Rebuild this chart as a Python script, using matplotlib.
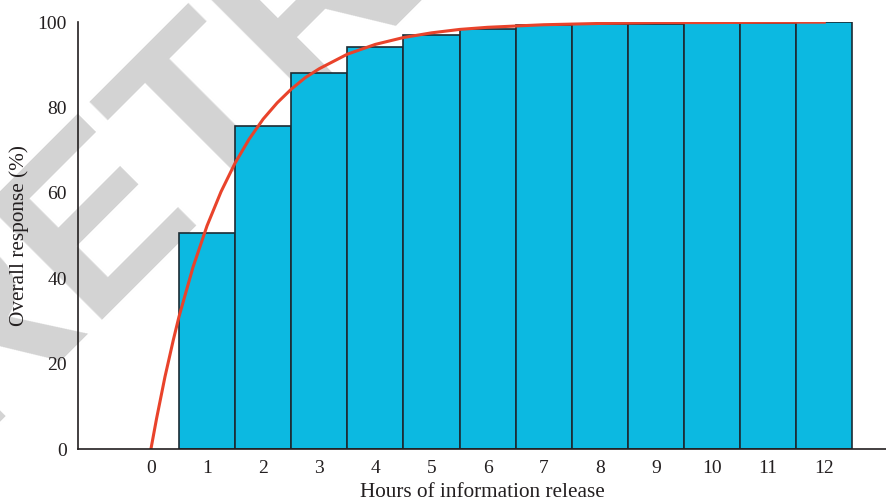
import matplotlib.pyplot as plt

# bar heights
hours = [1, 2, 3, 4, 5, 6, 7, 8, 9, 10, 11, 12]
response = [50.6, 75.6, 88.0, 94.1, 97.1, 98.5, 99.3, 99.5, 99.6, 99.7, 99.8, 100.0]

# red fitted curve
curve_x = [0, 0.1, 0.25, 0.4, 0.5, 0.75, 1.0, 1.25, 1.5, 1.75, 2.0, 2.25, 2.5, 2.75, 3.0,
           3.5, 4.0, 4.5, 5.0, 5.5, 6.0, 7.0, 8.0, 9.0, 10.0, 11.0, 12.0]
curve_y = [0, 7.1, 16.9, 25.6, 31.0, 42.6, 52.3, 60.3, 67.0, 72.6, 77.3, 81.1, 84.3, 87.0, 89.1,
           92.5, 94.8, 96.4, 97.5, 98.3, 98.8, 99.4, 99.7, 99.9, 99.9, 100.0, 100.0]

x_ticks = list(range(0, 13))
y_ticks = [0, 20, 40, 60, 80, 100]

plt.rcParams['font.family'] = ['Liberation Serif', 'DejaVu Serif']

fig = plt.figure(figsize=(8.86, 5.04), dpi=100)
ax = fig.add_axes([0.088, 0.109, 0.912, 0.847])
ax.patch.set_alpha(0)

# retraction watermark behind the chart
fig.text(-0.039, 0.126, 'RETRACTED', family='Liberation Sans', weight='bold', fontsize=171,
         color='#d3d3d3', rotation=45, rotation_mode='anchor', ha='left', va='baseline', zorder=-1)

ax.bar(hours, response, width=1.0, color='#0cb9e1', edgecolor='#1c2b33', linewidth=1.2, zorder=2)
ax.plot(curve_x, curve_y, color='#e9432b', linewidth=2.2, zorder=3)

ax.set_xlim(-1.3, 13.1)
ax.set_ylim(0, 100)
ax.set_xticks(x_ticks)
ax.set_yticks(y_ticks)
ax.tick_params(length=0, labelsize=14, colors='#231f20', pad=8)
for side in ['top', 'right']:
    ax.spines[side].set_visible(False)
for side in ['left', 'bottom']:
    ax.spines[side].set_color('#231f20')
    ax.spines[side].set_linewidth(1.2)
    ax.spines[side].set_zorder(4)

ax.set_xlabel('Hours of information release', fontsize=15.3, color='#231f20', labelpad=4)
ax.set_ylabel('Overall response (%)', fontsize=15.3, color='#231f20', labelpad=6)

fig.savefig('out.png', dpi=100)
